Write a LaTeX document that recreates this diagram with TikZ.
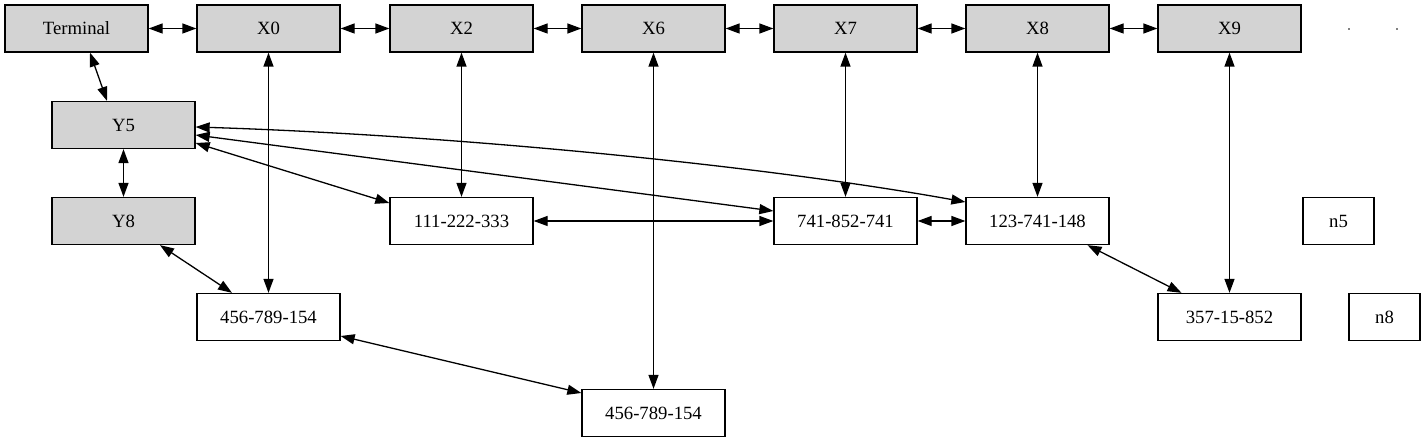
\documentclass[tikz,border=0pt]{standalone}
\usepackage{fontspec}
\setmainfont{Liberation Serif}
\usetikzlibrary{arrows.meta}
\begin{document}
\begin{tikzpicture}[x=1pt,y=-1pt,
  box/.style={draw=black,line width=1.3pt,rectangle,inner sep=0pt,minimum width=143pt,minimum height=47pt,font=\fontsize{18.7}{22}\selectfont},
  gbox/.style={box,fill=graybox},
  sbox/.style={box,minimum width=71pt},
  dot/.style={circle,fill=black,inner sep=0pt,minimum size=1.6pt},
  link/.style={line width=1.3pt,{Triangle[length=14pt,width=10pt]}-{Triangle[length=14pt,width=10pt]}}]
\definecolor{graybox}{HTML}{D3D3D3}
\useasboundingbox (0,0) rectangle (1427,443);
\node[gbox] (T) at (76.5,28.5) {Terminal};
\node[gbox] (X0) at (268.5,28.5) {X0};
\node[gbox] (X2) at (461.5,28.5) {X2};
\node[gbox] (X6) at (653.5,28.5) {X6};
\node[gbox] (X7) at (845.5,28.5) {X7};
\node[gbox] (X8) at (1037.5,28.5) {X8};
\node[gbox] (X9) at (1229.5,28.5) {X9};
\node[dot] (p1) at (1349,29) {};
\node[dot] (p2) at (1397,29) {};
\node[gbox] (Y5) at (123.5,125) {Y5};
\node[gbox] (Y8) at (123.5,221) {Y8};
\node[box] (A) at (461.5,221) {111-222-333};
\node[box] (B) at (845.5,221) {741-852-741};
\node[box] (C) at (1037.5,221) {123-741-148};
\node[sbox] (n5) at (1338.5,221) {n5};
\node[box] (D) at (268.5,317) {456-789-154};
\node[box] (E) at (1229.5,317) {357-15-852};
\node[sbox] (n8) at (1384.5,317) {n8};
\node[box] (F) at (653.5,413) {456-789-154};
% top row
\draw[link] (T) -- (X0);
\draw[link] (X0) -- (X2);
\draw[link] (X2) -- (X6);
\draw[link] (X6) -- (X7);
\draw[link] (X7) -- (X8);
\draw[link] (X8) -- (X9);
% verticals
\draw[link] (Y5) -- (Y8);
\draw[link] (X0) -- (D);
\draw[link] (X2) -- (A);
\draw[link] (X6) -- (F);
\draw[link] (X7) -- (B);
\draw[link] (X8) -- (C);
\draw[link] (X9) -- (E);
% horizontals
\draw[link] (A) -- (B);
\draw[link] (B) -- (C);
% diagonals
\draw[link] ([xshift=13.5pt]T.south) -- ([xshift=-16.5pt]Y5.north);
\draw[link] ([xshift=36.5pt]Y8.south) -- ([xshift=-36.5pt]D.north);
\draw[link] ([yshift=-18pt]Y5.east) -- ([yshift=18pt]A.west);
\draw[link] ([yshift=-10pt]Y5.east) -- ([yshift=10pt]B.west);
\draw[link] ([yshift=-2pt]Y5.east) .. controls (450,135) and (760,165) .. ([yshift=19pt]C.west);
\draw[link] ([yshift=-19pt]D.east) -- ([yshift=20pt]F.west);
\draw[link] ([xshift=50pt]C.south) -- ([xshift=-48pt]E.north);
\end{tikzpicture}
\end{document}
